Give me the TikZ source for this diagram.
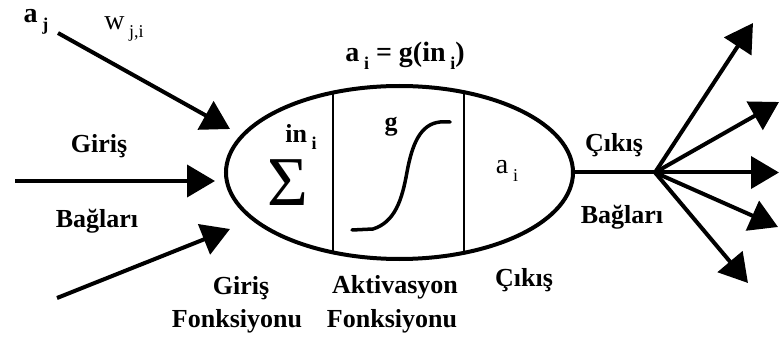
\documentclass[tikz,border=0pt]{standalone}
\usepackage{fontspec}
\setmainfont{Liberation Serif}
\usetikzlibrary{arrows.meta,shapes.geometric}
\newcommand{\mysub}[1]{\,\raisebox{-0.3em}{\fontsize{18}{18}\selectfont #1}}
\begin{document}
\begin{tikzpicture}[x=1pt,y=-1pt,
  lbl/.style={font=\fontsize{26}{28}\selectfont\bfseries, inner sep=0pt},
  rlbl/.style={font=\fontsize{28}{30}\selectfont, inner sep=0pt},
  arr/.style={line width=4pt, -{Triangle[length=28pt,width=32pt]}},
  thick line/.style={line width=4pt},
  divider/.style={line width=2pt}]
\useasboundingbox (0,0) rectangle (780,342);
% neuron body
\node (neuron) [draw, ellipse, line width=4pt, minimum width=347pt, minimum height=173pt, inner sep=0pt] at (399.5,172.5) {};
% dividers
\coordinate (d1t) at (333,92.6);
\coordinate (d1b) at (333,252.4);
\coordinate (d2t) at (464,92.2);
\coordinate (d2b) at (464,252.8);
\draw[divider] (d1t) -- (d1b);
\draw[divider] (d2t) -- (d2b);
% input arrows
\coordinate (in1s) at (58,33);
\coordinate (in1e) at (230,129);
\coordinate (in2s) at (15,181);
\coordinate (in2e) at (215,181);
\coordinate (in3s) at (57,298);
\coordinate (in3e) at (230,229);
\draw[arr] (in1s) -- (in1e);
\draw[arr] (in2s) -- (in2e);
\draw[arr] (in3s) -- (in3e);
% output
\coordinate (hub) at (655,172.5);
\draw[thick line] (neuron.east) -- (hub);
\coordinate (o1) at (753,23);
\coordinate (o2) at (779,102);
\coordinate (o3) at (779,172.5);
\coordinate (o4) at (778,227);
\coordinate (o5) at (748,283);
\foreach \o in {o1,o2,o3,o4,o5} \draw[arr] (hub) -- (\o);
% sigmoid
\draw[line width=3.5pt, line cap=round] (352,230) -- (373,229) .. controls (395,222) and (402,200) .. (407,172) .. controls (412,145) and (420,124) .. (440,122) -- (450,122);
% labels
\node[lbl, font=\fontsize{28}{30}\selectfont\bfseries] (aj) at (36,22) {a\mysub{j}};
\node[rlbl] (wji) at (124,29) {w\mysub{j,i}};
\node[lbl] (giris1) at (99,146) {Giriş};
\node[lbl] (baglari1) at (97,221) {Bağları};
\node[lbl, font=\fontsize{28}{30}\selectfont\bfseries] (formula) at (405,56) {a\mysub{i} = g(in\mysub{i})};
\node[lbl] (ini) at (301,137) {in\mysub{i}};
\node[font=\fontsize{70}{70}\selectfont, inner sep=0pt] (sigma) at (288,183) {Σ};
\node[lbl] (g) at (391,127) {g};
\node[rlbl] (ai) at (507,171) {a\mysub{i}};
\node[lbl] (cikis1) at (614,145) {Çıkış};
\node[lbl] (baglari2) at (622,217) {Bağları};
\node[lbl] (giris2) at (241,288) {Giriş};
\node[lbl] (fonk1) at (237,321) {Fonksiyonu};
\node[lbl] (aktiv) at (395,287) {Aktivasyon};
\node[lbl] (fonk2) at (392,321) {Fonksiyonu};
\node[lbl] (cikis2) at (524,280) {Çıkış};
\end{tikzpicture}
\end{document}
